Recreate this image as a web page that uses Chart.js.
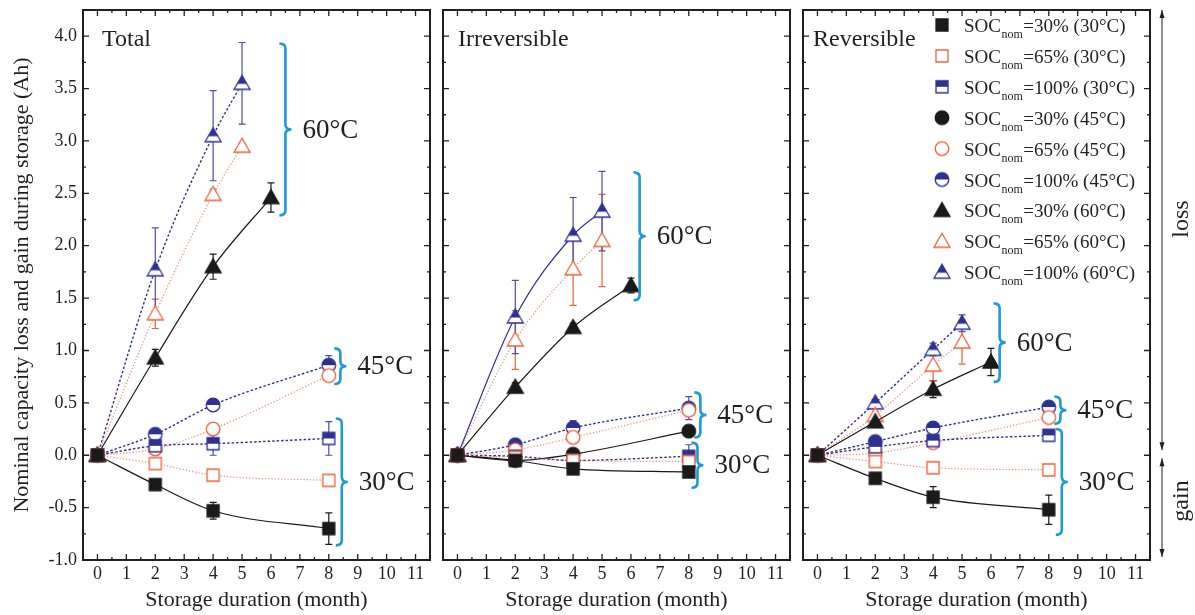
<!DOCTYPE html>
<html>
<head>
<meta charset="utf-8">
<script src="https://cdn.jsdelivr.net/npm/chart.js@4.4.1/dist/chart.umd.min.js"></script>
<style>
  body { margin: 0; background: #fff; }
  #wrap { position: relative; width: 1195px; height: 615px; }
  #wrap canvas { position: absolute; left: 0; top: 0; }
</style>
</head>
<body>
<div id="wrap">
  <canvas id="total" width="1195" height="615"></canvas>
  <canvas id="irrev" width="1195" height="615"></canvas>
  <canvas id="rev" width="1195" height="615"></canvas>
</div>
<script>
//  Storage months at which each cell group was measured
const months = [0, 2, 4, 8];
const months60 = [0, 2, 4, 6];
const months60hi = [0, 2, 4, 5];

//  Axis tick values
const xTickValues = [0, 1, 2, 3, 4, 5, 6, 7, 8, 9, 10, 11];
const yTickValues = [-1, -0.5, 0, 0.5, 1, 1.5, 2, 2.5, 3, 3.5, 4];

//  Series order: SOC 30/65/100 % at 30, 45 and 60 °C
const seriesLabels = ['=30% (30°C)', '=65% (30°C)', '=100% (30°C)',
                      '=30% (45°C)', '=65% (45°C)', '=100% (45°C)',
                      '=30% (60°C)', '=65% (60°C)', '=100% (60°C)'];
const seriesMonths = [months, months, months, months, months, months, months60, months60hi, months60hi];

//  Total capacity loss (Ah)
const totalValues = [
  [0, -0.28, -0.53, -0.70],
  [0, -0.08, -0.19, -0.24],
  [0, 0.09, 0.11, 0.16],
  [null, null, null, null],
  [0, 0.06, 0.25, 0.76],
  [0, 0.20, 0.48, 0.86],
  [0, 0.93, 1.80, 2.46],
  [0, 1.35, 2.49, 2.95],
  [0, 1.77, 3.05, 3.55]
];
const totalErrors = [
  [0, 0.02, 0.08, 0.15],
  [0, 0.02, 0.02, 0.03],
  [0, 0.07, 0.11, 0.16],
  [0, 0, 0, 0],
  [0, 0.05, 0.05, 0.04],
  [0, 0.03, 0.02, 0.09],
  [0, 0.08, 0.12, 0.14],
  [0, 0.14, 0.05, 0.03],
  [0, 0.40, 0.43, 0.39]
];

//  Irreversible part
const irrevValues = [
  [0, -0.05, -0.13, -0.16],
  [0, -0.02, -0.05, -0.06],
  [0, -0.01, -0.05, -0.01],
  [0, -0.05, 0.01, 0.23],
  [0, 0.05, 0.17, 0.43],
  [0, 0.10, 0.26, 0.45],
  [0, 0.65, 1.22, 1.62],
  [0, 1.10, 1.78, 2.05],
  [0, 1.32, 2.10, 2.33]
];
const irrevErrors = [
  [0, 0.02, 0.02, 0.02],
  [0, 0.02, 0.02, 0.02],
  [0, 0.03, 0.07, 0.11],
  [0, 0.02, 0.03, 0.05],
  [0, 0.03, 0.04, 0.03],
  [0, 0.03, 0.07, 0.11],
  [0, 0.04, 0.04, 0.07],
  [0, 0.28, 0.35, 0.44],
  [0, 0.35, 0.36, 0.38]
];

//  Reversible part
const revValues = [
  [0, -0.22, -0.40, -0.52],
  [0, -0.06, -0.12, -0.14],
  [0, 0.08, 0.14, 0.19],
  [null, null, null, null],
  [0, 0.02, 0.12, 0.36],
  [0, 0.13, 0.26, 0.46],
  [0, 0.32, 0.63, 0.89],
  [0, 0.38, 0.86, 1.08],
  [0, 0.50, 1.01, 1.26]
];
const revErrors = [
  [0, 0.02, 0.10, 0.14],
  [0, 0.02, 0.04, 0.03],
  [0, 0.03, 0.02, 0.03],
  [0, 0, 0, 0],
  [0, 0.05, 0.04, 0.04],
  [0, 0.03, 0.03, 0.02],
  [0, 0.05, 0.08, 0.13],
  [0, 0.04, 0.15, 0.21],
  [0, 0.03, 0.06, 0.08]
];

//  Temperature braces: [month, low, high, text]
const totalBraces = [[6.5, 2.29, 3.93, '60°C'], [8.4, 0.68, 1.02, '45°C'], [8.45, -0.86, 0.35, '30°C']];
const irrevBraces = [[6.3, 1.48, 2.70, '60°C'], [8.4, 0.17, 0.60, '45°C'], [8.3, -0.31, 0.12, '30°C']];
const revBraces = [[6.3, 0.70, 1.45, '60°C'], [8.4, 0.30, 0.56, '45°C'], [8.45, -0.76, 0.25, '30°C']];

const FONT = '"Liberation Serif", "Times New Roman", serif';
const INK = '#231f20';
const BLACK = '#1a1a1a', RED = '#f0603a', BLUE = '#2e3192', BRACE = '#1d9ad6';

const seriesColor = [BLACK, RED, BLUE, BLACK, RED, BLUE, BLACK, RED, BLUE];
const seriesShape = ['sq', 'sq', 'sq', 'ci', 'ci', 'ci', 'tr', 'tr', 'tr'];
const seriesFill = ['full', 'open', 'half', 'full', 'open', 'half', 'full', 'open', 'half'];

//  Build marker sprites used as point styles
function shapePath(g, shape, m) {
    g.beginPath();
    if (shape === 'sq') g.rect(m - 6, m - 6, 12, 12);
    else if (shape === 'ci') g.arc(m, m, 6.8, 0, Math.PI * 2);
    else { g.moveTo(m, m - 8); g.lineTo(m + 8, m + 6); g.lineTo(m - 8, m + 6); g.closePath(); }
}
function makeMarker(shape, fill, color) {
    const s = 22, m = s / 2;
    const c = document.createElement('canvas');
    c.width = s; c.height = s;
    const g = c.getContext('2d');
    g.lineWidth = 1.3;
    g.strokeStyle = color;
    shapePath(g, shape, m);
    g.fillStyle = fill === 'full' ? color : '#fff';
    g.fill();
    if (fill === 'half') {
        g.save();
        g.beginPath();
        g.rect(0, 0, s, shape === 'tr' ? m + 0.5 : m);
        g.clip();
        shapePath(g, shape, m);
        g.fillStyle = color;
        g.fill();
        g.restore();
    }
    shapePath(g, shape, m);
    g.stroke();
    return c;
}
const markers = seriesShape.map((s, i) => makeMarker(s, seriesFill[i], seriesColor[i]));

function lineStyle(i, solidBlue) {
    const kind = i % 3;
    if (kind === 0) return { borderColor: BLACK, borderWidth: 1.2, borderDash: [] };
    if (kind === 1) return { borderColor: 'rgba(240,96,58,0.75)', borderWidth: 1.2, borderDash: [1.2, 2] };
    if (solidBlue) return { borderColor: BLUE, borderWidth: 1.2, borderDash: [] };
    return { borderColor: BLUE, borderWidth: 1.4, borderDash: [2.5, 2] };
}

function makePanel(id, left, right, values, errors, braces, title, opts) {
    const datasets = values.map((vals, i) => Object.assign({
        label: 'SOCnom' + seriesLabels[i],
        data: seriesMonths[i].map((m, k) => ({ x: m, y: vals[k] })),
        errors: errors[i],
        showLine: true,
        pointStyle: markers[i],
        cubicInterpolationMode: 'monotone'
    }, lineStyle(i, opts.solidBlue && i === 8)));

    const panelPlugin = {
        id: 'panel_' + id,
        beforeDatasetsDraw(chart) {
            const ctx = chart.ctx, xs = chart.scales.x, ys = chart.scales.y;
            ctx.save();
            chart.data.datasets.forEach((ds, i) => {
                ds.data.forEach((p, k) => {
                    const e = ds.errors[k];
                    if (!e || p.y == null) return;
                    const px = xs.getPixelForValue(p.x);
                    const t = ys.getPixelForValue(p.y + e), b = ys.getPixelForValue(p.y - e);
                    ctx.strokeStyle = i % 3 === 2 ? '#4a4fa8' : seriesColor[i];
                    ctx.lineWidth = 1.2;
                    ctx.beginPath();
                    ctx.moveTo(px, t); ctx.lineTo(px, b);
                    ctx.moveTo(px - 3.5, t); ctx.lineTo(px + 3.5, t);
                    ctx.moveTo(px - 3.5, b); ctx.lineTo(px + 3.5, b);
                    ctx.stroke();
                });
            });
            ctx.restore();
        },
        afterDraw(chart) {
            const ctx = chart.ctx, xs = chart.scales.x, ys = chart.scales.y;
            const a = chart.chartArea;
            ctx.save();
            // frame
            ctx.strokeStyle = INK;
            ctx.lineWidth = 2;
            ctx.strokeRect(a.left, a.top, a.right - a.left, a.bottom - a.top);
            // inward ticks on all four sides
            ctx.lineWidth = 1.3;
            ctx.beginPath();
            xs.ticks.forEach(t => {
                const px = xs.getPixelForValue(t.value);
                ctx.moveTo(px, a.bottom); ctx.lineTo(px, a.bottom - 6);
                ctx.moveTo(px, a.top); ctx.lineTo(px, a.top + 6);
                const hx = xs.getPixelForValue(t.value + 0.5);
                if (t.value + 0.5 < xs.max) {
                    ctx.moveTo(hx, a.bottom); ctx.lineTo(hx, a.bottom - 3);
                    ctx.moveTo(hx, a.top); ctx.lineTo(hx, a.top + 3);
                }
            });
            ys.ticks.forEach(t => {
                const py = ys.getPixelForValue(t.value);
                ctx.moveTo(a.left, py); ctx.lineTo(a.left + 6, py);
                ctx.moveTo(a.right, py); ctx.lineTo(a.right - 6, py);
                if (t.value + 0.25 < ys.max) {
                    const hy = ys.getPixelForValue(t.value + 0.25);
                    ctx.moveTo(a.left, hy); ctx.lineTo(a.left + 3, hy);
                    ctx.moveTo(a.right, hy); ctx.lineTo(a.right - 3, hy);
                }
            });
            ctx.stroke();
            // panel title
            ctx.fillStyle = INK;
            ctx.font = '24px ' + FONT;
            ctx.textBaseline = 'alphabetic';
            ctx.textAlign = 'left';
            ctx.fillText(title, opts.titleX, a.top + 36);
            // temperature braces
            braces.forEach(([xv, lo, hi, txt]) => {
                const bx = xs.getPixelForValue(xv);
                const yt = ys.getPixelForValue(hi), yb = ys.getPixelForValue(lo);
                const ym = (yt + yb) / 2;
                ctx.strokeStyle = BRACE;
                ctx.lineWidth = 2.6;
                ctx.beginPath();
                ctx.moveTo(bx - 6, yt);
                ctx.quadraticCurveTo(bx, yt, bx, yt + 5);
                ctx.lineTo(bx, ym - 5);
                ctx.quadraticCurveTo(bx, ym, bx + 6, ym);
                ctx.quadraticCurveTo(bx, ym, bx, ym + 5);
                ctx.lineTo(bx, yb - 5);
                ctx.quadraticCurveTo(bx, yb, bx - 6, yb);
                ctx.stroke();
                ctx.fillStyle = INK;
                ctx.font = '27px ' + FONT;
                ctx.textBaseline = 'middle';
                ctx.fillText(txt, bx + 17, ym + 1);
            });
            if (opts.legend) {
                const lx = a.left + 139, ly = a.top + 15;
                ctx.textBaseline = 'alphabetic';
                seriesLabels.forEach((lab, i) => {
                    const cy = ly + i * 30.9;
                    const mk = markers[i];
                    ctx.drawImage(mk, lx - mk.width / 2, cy - mk.height / 2);
                    let tx = lx + 22;
                    ctx.fillStyle = INK;
                    ctx.font = '19px ' + FONT;
                    ctx.fillText('SOC', tx, cy + 7);
                    tx += ctx.measureText('SOC').width + 0.5;
                    ctx.font = '12px ' + FONT;
                    ctx.fillText('nom', tx, cy + 13);
                    tx += ctx.measureText('nom').width + 0.5;
                    ctx.font = '19px ' + FONT;
                    ctx.fillText(lab, tx, cy + 7);
                });
            }
            if (opts.arrows) {
                const ax = a.right + 12;
                const y0 = ys.getPixelForValue(0);
                ctx.strokeStyle = INK;
                ctx.fillStyle = INK;
                ctx.lineWidth = 1;
                const head = (y, dir) => {
                    ctx.beginPath();
                    ctx.moveTo(ax, y);
                    ctx.lineTo(ax - 2.5, y - dir * 8);
                    ctx.lineTo(ax + 2.5, y - dir * 8);
                    ctx.closePath();
                    ctx.fill();
                };
                ctx.beginPath();
                ctx.moveTo(ax, a.top); ctx.lineTo(ax, y0 - 5);
                ctx.moveTo(ax, y0 + 3); ctx.lineTo(ax, a.bottom - 3);
                ctx.stroke();
                head(a.top, -1); head(y0 - 5, 1);
                head(y0 + 3, -1); head(a.bottom - 3, 1);
                ctx.font = '24px ' + FONT;
                ctx.textAlign = 'center';
                ctx.textBaseline = 'middle';
                [['loss', 219], ['gain', 501]].forEach(([w, cy]) => {
                    ctx.save();
                    ctx.translate(ax + 20, cy);
                    ctx.rotate(-Math.PI / 2);
                    ctx.fillText(w, 0, 0);
                    ctx.restore();
                });
            }
            ctx.restore();
        }
    };

    const tickFont = { family: FONT, size: 18, lineHeight: 1 };
    const titleFont = { family: FONT, size: 22 };
    return new Chart(document.getElementById(id), {
        type: 'scatter',
        data: { datasets: datasets },
        options: {
            responsive: false,
            animation: false,
            events: [],
            layout: { padding: { left: opts.showY ? 0 : left, right: 1195 - right, top: 10, bottom: 0 } },
            plugins: { legend: { display: false }, tooltip: { enabled: false } },
            scales: {
                x: {
                    type: 'linear', min: -0.5, max: 11.5,
                    grid: { display: false, drawTicks: false }, border: { display: false },
                    ticks: { autoSkip: false, maxRotation: 0, padding: 5, color: INK, font: tickFont },
                    title: { display: true, text: 'Storage duration (month)', color: INK,
                             font: titleFont, padding: { top: 0, bottom: 2 } },
                    afterBuildTicks: s => { s.ticks = xTickValues.map(v => ({ value: v })); },
                    afterFit: s => { s.height = 55; s.paddingLeft = 0; s.paddingRight = 0; }
                },
                y: {
                    type: 'linear', min: -1, max: 4.25,
                    grid: { display: false, drawTicks: false }, border: { display: false },
                    ticks: { display: opts.showY, padding: 6,
                             color: INK, font: tickFont, callback: v => v.toFixed(1) },
                    title: { display: opts.showY, text: 'Nominal capacity loss and gain during storage (Ah)',
                             color: INK, font: titleFont, padding: { top: 9, bottom: 0 } },
                    afterBuildTicks: s => { s.ticks = yTickValues.map(v => ({ value: v })); },
                    afterFit: s => { s.width = opts.showY ? left : 0; s.paddingTop = 0; s.paddingBottom = 0; }
                }
            }
        },
        plugins: [panelPlugin]
    });
}

makePanel('total', 83, 430, totalValues, totalErrors, totalBraces, 'Total',
          { showY: true, titleX: 102 });
makePanel('irrev', 443, 790, irrevValues, irrevErrors, irrevBraces, 'Irreversible',
          { showY: false, titleX: 458, solidBlue: true });
makePanel('rev', 803, 1150, revValues, revErrors, revBraces, 'Reversible',
          { showY: false, titleX: 813, legend: true, arrows: true });
</script>
</body>
</html>
